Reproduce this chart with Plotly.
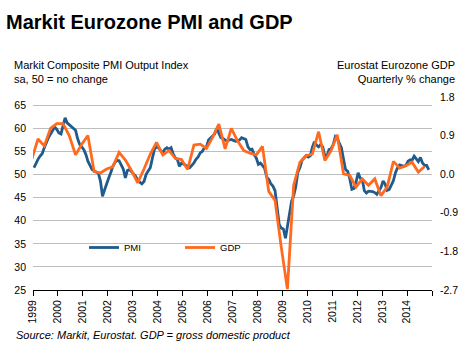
import plotly.graph_objects as go

# ---------------- data ----------------
pmi_start = "1999-01"
pmi_values = [
    # 1999
    51.5, 52.5, 53.3, 54.0, 54.5, 55.8, 57.0, 58.0, 58.8, 59.5, 60.3, 59.8,
    # 2000
    59.0, 58.8, 60.3, 62.3, 61.2, 60.8, 60.3, 59.8, 59.6, 57.8, 56.5, 56.0,
    # 2001
    55.4, 54.3, 52.9, 52.0, 51.1, 50.8, 50.6, 50.3, 48.6, 45.3, 46.7, 48.2,
    # 2002
    49.3, 50.5, 51.8, 52.6, 53.1, 53.0, 52.2, 51.2, 49.3, 50.9, 51.1, 50.6,
    # 2003
    50.0, 49.6, 48.7, 48.4, 48.0, 48.5, 50.0, 50.8, 51.5, 53.5, 55.5, 56.0,
    # 2004
    55.8, 55.2, 54.7, 55.5, 55.8, 55.5, 55.8, 54.5, 53.6, 53.3, 51.8, 52.5,
    # 2005
    52.3, 52.0, 51.8, 51.5, 52.0, 52.5, 53.3, 53.8, 54.7, 55.0, 55.8, 56.0,
    # 2006
    57.5, 58.0, 58.5, 58.8, 60.0, 59.0, 58.0, 57.8, 57.4, 57.2, 57.5, 57.6,
    # 2007
    57.4, 57.2, 57.3, 57.5, 58.0, 57.8, 57.6, 56.0, 55.4, 55.5, 54.3, 53.6,
    # 2008
    52.2, 52.5, 52.0, 51.4, 49.5, 49.0, 48.0, 47.5, 46.5, 43.3, 39.2, 38.4,
    # 2009
    38.2, 36.2, 38.5, 41.0, 44.2, 45.4, 47.3, 50.5, 51.5, 53.1, 53.7, 54.1,
    # 2010
    53.8, 54.1, 55.9, 57.1, 56.4, 56.0, 56.5, 56.0, 54.0, 54.0, 55.4, 55.6,
    # 2011
    56.5, 58.2, 57.8, 56.8, 55.8, 53.3, 51.1, 50.7, 49.1, 46.8, 47.0, 48.3,
    # 2012
    50.4, 49.2, 49.0, 46.5, 46.0, 46.4, 46.4, 46.3, 46.1, 45.7, 46.5, 47.2,
    # 2013
    48.6, 47.9, 46.6, 46.8, 47.7, 48.7, 50.4, 51.5, 52.1, 51.9, 51.8, 52.0,
    # 2014
    52.9, 53.2, 53.1, 54.0, 53.5, 52.8, 53.7, 52.5, 52.0, 52.0, 51.0,
]

gdp_quarters = [
    "1998-12",
    "1999-03", "1999-06", "1999-09", "1999-12",
    "2000-03", "2000-06", "2000-09", "2000-12",
    "2001-03", "2001-06", "2001-09", "2001-12",
    "2002-03", "2002-06", "2002-09", "2002-12",
    "2003-03", "2003-06", "2003-09", "2003-12",
    "2004-03", "2004-06", "2004-09", "2004-12",
    "2005-03", "2005-06", "2005-09", "2005-12",
    "2006-03", "2006-06", "2006-09", "2006-12",
    "2007-03", "2007-06", "2007-09", "2007-12",
    "2008-03", "2008-06", "2008-09", "2008-12",
    "2009-03", "2009-06", "2009-09", "2009-12",
    "2010-03", "2010-06", "2010-09", "2010-12",
    "2011-03", "2011-06", "2011-09", "2011-12",
    "2012-03", "2012-06", "2012-09", "2012-12",
    "2013-03", "2013-06", "2013-09", "2013-12",
    "2014-03", "2014-06", "2014-09",
]
gdp_values = [
    0.35,
    0.82, 0.66, 1.07, 1.18,
    1.18, 0.90, 0.45, 0.70,
    0.90, 0.06, 0.03, 0.12,
    0.17, 0.51, 0.33, 0.08,
    -0.20, 0.12, 0.47, 0.74,
    0.45, 0.55, 0.37, 0.34,
    0.11, 0.68, 0.70, 0.60,
    0.86, 1.17, 0.59, 1.07,
    0.78, 0.55, 0.49, 0.45,
    0.65, -0.40, -0.61, -1.70,
    -2.68, -0.26, 0.28, 0.43,
    0.47, 0.99, 0.32, 0.55,
    0.92, 0.01, -0.03, -0.30,
    -0.11, -0.26, -0.11, -0.50,
    -0.30, 0.30, 0.14, 0.20,
    0.28, 0.05, 0.18,
]

year_ticks = list(range(1999, 2016))
year_labels = [str(y) for y in range(1999, 2015)] + [""]
gdp_tickvals = [-2.7, -1.8, -0.9, 0.0, 0.9, 1.8]
gdp_ticktext = ["-2.7", "-1.8", "-0.9", "0.0", "0.9", "1.8"]

# ---------------- derived x values ----------------
def month_dates(start, n):
    y, m = map(int, start.split("-"))
    out = []
    for _ in range(n):
        out.append(f"{y:04d}-{m:02d}-15")
        m += 1
        if m > 12:
            m = 1
            y += 1
    return out

pmi_dates = month_dates(pmi_start, len(pmi_values))
gdp_dates = [q + "-15" for q in gdp_quarters]

# ---------------- layout geometry ----------------
W, H = 464, 352
L, R, T, B = 33, 432, 97, 290

def px_x(x):
    return (x - L) / (R - L)

def px_y(y):
    return (B - y) / (B - T)

BLUE = "#1F5B8C"
ORANGE = "#FF6A1F"
FONT = "Liberation Sans, Arial, sans-serif"

fig = go.Figure()
fig.add_trace(go.Scatter(
    x=pmi_dates, y=pmi_values, name="PMI", mode="lines",
    line=dict(color=BLUE, width=2.8), legend="legend",
))
fig.add_trace(go.Scatter(
    x=gdp_dates, y=gdp_values, name="GDP", mode="lines", yaxis="y2",
    line=dict(color=ORANGE, width=2.8), legend="legend2",
))

fig.update_layout(
    width=W, height=H,
    margin=dict(l=L, r=W - R, t=T, b=H - B, pad=0, autoexpand=False),
    paper_bgcolor="white", plot_bgcolor="white",
    font=dict(family=FONT, size=10.5, color="black"),
    title=dict(
        text="<b>Markit Eurozone PMI and GDP</b>",
        font=dict(family=FONT, size=20, color="black"),
        xref="container", yref="container",
        x=6 / W, xanchor="left", y=1 - 22 / H, yanchor="middle",
    ),
    xaxis=dict(
        type="date",
        range=["1999-01-01", "2015-01-01"],
        tickvals=[f"{y}-01-01" for y in year_ticks],
        ticktext=year_labels,
        tickangle=-90,
        ticks="outside", ticklen=5, tickcolor="black", tickwidth=1,
        showline=True, linecolor="black", linewidth=1,
        showgrid=False, zeroline=False,
        tickfont=dict(size=10.5),
    ),
    yaxis=dict(
        range=[25, 66.8],
        tick0=25, dtick=5,
        showgrid=True, gridcolor="#BEBEBE", gridwidth=1,
        zeroline=False, showline=False, ticks="",
        ticklabelstandoff=6,
        tickfont=dict(size=10.5),
    ),
    yaxis2=dict(
        range=[-2.7, 1.8],
        overlaying="y", side="right",
        tickvals=gdp_tickvals, ticktext=gdp_ticktext,
        showgrid=False, zeroline=False, showline=False, ticks="",
        ticklabelstandoff=7,
        tickfont=dict(size=10.5),
    ),
    legend=dict(
        x=px_x(84), y=px_y(247.5), xanchor="left", yanchor="middle",
        bgcolor="rgba(0,0,0,0)", font=dict(size=9.5),
    ),
    legend2=dict(
        x=px_x(180), y=px_y(247.5), xanchor="left", yanchor="middle",
        bgcolor="rgba(0,0,0,0)", font=dict(size=9.5),
    ),
    showlegend=True,
)

fig.add_annotation(
    text="Markit Composite PMI Output Index<br>sa, 50 = no change",
    xref="paper", yref="paper", x=px_x(12), y=px_y(71.5), xanchor="left", yanchor="middle",
    align="left", showarrow=False, font=dict(size=11),
)
fig.add_annotation(
    text="Eurostat Eurozone GDP<br>Quarterly % change",
    xref="paper", yref="paper", x=px_x(457), y=px_y(71.5), xanchor="right", yanchor="middle",
    align="right", showarrow=False, font=dict(size=11),
)
fig.add_annotation(
    text="<i>Source: Markit, Eurostat. GDP = gross domestic product</i>",
    xref="paper", yref="paper", x=px_x(14), y=px_y(335), xanchor="left", yanchor="middle",
    showarrow=False, font=dict(size=11),
)

fig.write_html("out.html")
